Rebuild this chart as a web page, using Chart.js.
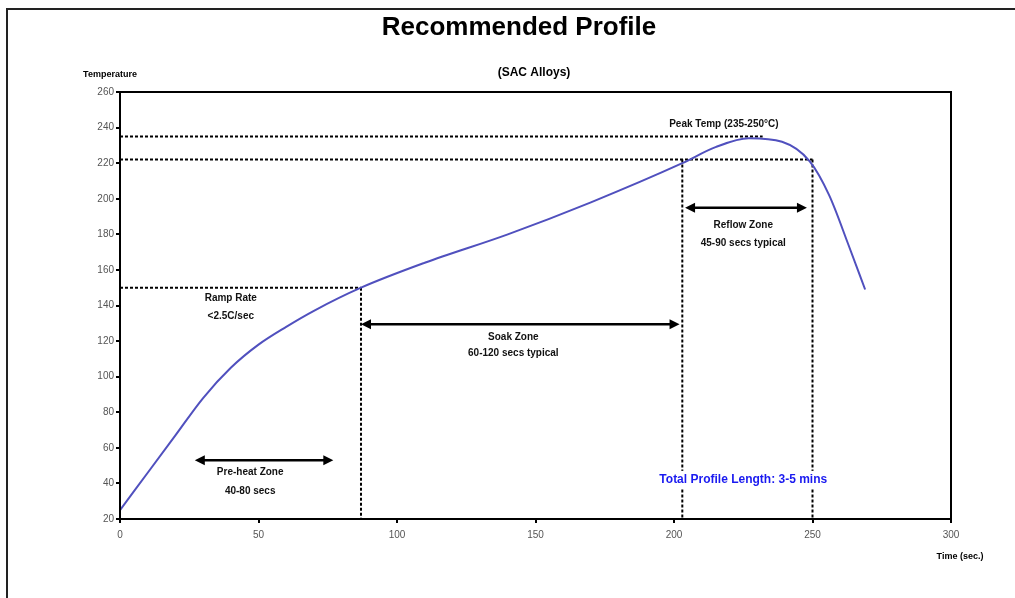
<!DOCTYPE html>
<html>
<head>
<meta charset="utf-8">
<script src="https://cdn.jsdelivr.net/npm/chart.js@4.4.0/dist/chart.umd.min.js"></script>
<style>
  html, body { margin: 0; padding: 0; background: #fff; }
  #wrap { width: 1015px; height: 598px; position: relative; }
</style>
</head>
<body>
<div id="wrap"><canvas id="perfil"></canvas></div>
<script>
/* curva de temperatura do perfil (tempo em seg, temperatura em C) */
const tempo_seg = [0, 10, 20, 30, 40, 50, 60, 70, 87, 110, 140, 170, 203, 215, 227, 239, 249, 256, 263, 269];
const temperatura = [25, 46, 67, 88, 105, 118, 128, 137, 150, 164, 180, 198, 220, 229, 234, 232, 221, 202, 174, 149];

/* linhas tracejadas de referencia: [x1, y1, x2, y2] */
const linhas_ref = [
    [0, 235, 232, 235],
    [0, 222, 250, 222],
    [0, 150, 87, 150],
    [87, 150, 87, 20],
    [203, 222, 203, 20],
    [250, 222, 250, 20]
];

/* setas das zonas: [x inicio, x fim, y] */
const setas_zonas = [
    [27, 77, 53],
    [87, 202, 129.5],
    [204, 248, 195]
];

/* textos: [texto, x, y] em valores do grafico */
const textos_zonas = [
    ['Peak Temp (235-250\u00b0C)', 218, 242],
    ['Reflow Zone', 225, 185],
    ['45-90 secs typical', 225, 175],
    ['Ramp Rate', 40, 144],
    ['<2.5C/sec', 40, 134],
    ['Soak Zone', 142, 122],
    ['60-120 secs typical', 142, 113],
    ['Pre-heat Zone', 47, 46],
    ['40-80 secs', 47, 35.5]
];

const ticks_x = [0, 50, 100, 150, 200, 250, 300];
const ticks_y = [20, 40, 60, 80, 100, 120, 140, 160, 180, 200, 220, 240, 260];

const conjuntos = [{
    label: 'Perfil',
    data: tempo_seg.map((t, i) => ({ x: t, y: temperatura[i] })),
    borderColor: 'rgb(80, 80, 190)',
    borderWidth: 2,
    pointRadius: 0,
    cubicInterpolationMode: 'monotone',
    fill: false
}];

for (let i = 0; i < linhas_ref.length; i++) {
    conjuntos.push({
        label: 'ref' + i,
        data: [{ x: linhas_ref[i][0], y: linhas_ref[i][1] }, { x: linhas_ref[i][2], y: linhas_ref[i][3] }],
        borderColor: '#000',
        borderWidth: 2,
        borderDash: [3, 2],
        pointRadius: 0,
        fill: false
    });
}

const plugin_desenho = {
    id: 'desenho',
    beforeDraw(chart) {
        const ctx = chart.ctx;
        ctx.save();
        ctx.fillStyle = '#fff';
        ctx.fillRect(0, 0, chart.width, chart.height);
        ctx.strokeStyle = '#222';
        ctx.lineWidth = 2;
        ctx.strokeRect(7, 9, 1020, 620);
        ctx.restore();
    },
    afterDraw(chart) {
        const ctx = chart.ctx;
        const sx = chart.scales.x, sy = chart.scales.y;
        const a = chart.chartArea;
        ctx.save();
        ctx.strokeStyle = '#000';
        ctx.lineWidth = 2;
        ctx.strokeRect(a.left, a.top, a.right - a.left, a.bottom - a.top);

        // setas
        setas_zonas.forEach(s => {
            const x1 = sx.getPixelForValue(s[0]), x2 = sx.getPixelForValue(s[1]);
            const y = sy.getPixelForValue(s[2]);
            ctx.beginPath();
            ctx.lineWidth = 2.5;
            ctx.moveTo(x1 + 4, y);
            ctx.lineTo(x2 - 4, y);
            ctx.stroke();
            ctx.fillStyle = '#000';
            ctx.beginPath();
            ctx.moveTo(x1, y); ctx.lineTo(x1 + 10, y - 5); ctx.lineTo(x1 + 10, y + 5); ctx.closePath(); ctx.fill();
            ctx.beginPath();
            ctx.moveTo(x2, y); ctx.lineTo(x2 - 10, y - 5); ctx.lineTo(x2 - 10, y + 5); ctx.closePath(); ctx.fill();
        });

        // textos das zonas
        ctx.font = 'bold 10px "Liberation Sans", Arial, sans-serif';
        ctx.textAlign = 'center';
        ctx.textBaseline = 'middle';
        ctx.fillStyle = '#111';
        textos_zonas.forEach(t => {
            ctx.fillText(t[0], sx.getPixelForValue(t[1]), sy.getPixelForValue(t[2]));
        });

        // caixa do comprimento total
        const tx = sx.getPixelForValue(225), ty = sy.getPixelForValue(42);
        ctx.font = 'bold 12px "Liberation Sans", Arial, sans-serif';
        const w = ctx.measureText('Total Profile Length: 3-5 mins').width;
        ctx.fillStyle = '#fff';
        ctx.fillRect(tx - w / 2 - 4, ty - 9, w + 8, 18);
        ctx.fillStyle = '#1a1af0';
        ctx.fillText('Total Profile Length: 3-5 mins', tx, ty);

        // titulos
        ctx.fillStyle = '#000';
        ctx.font = 'bold 26px "Liberation Sans", Arial, sans-serif';
        ctx.fillText('Recommended Profile', 519, 28);
        ctx.font = 'bold 12px "Liberation Sans", Arial, sans-serif';
        ctx.fillText('(SAC Alloys)', 534, 73);
        ctx.font = 'bold 9px "Liberation Sans", Arial, sans-serif';
        ctx.fillText('Temperature', 110, 75);
        ctx.fillText('Time (sec.)', 960, 557);
        ctx.restore();
    }
};

const config_perfil = {
    type: 'line',
    data: { datasets: conjuntos },
    options: {
        responsive: true,
        maintainAspectRatio: false,
        animation: false,
        layout: { padding: { left: 0, top: 92, right: 64, bottom: 0 } },
        plugins: {
            legend: { display: false },
            tooltip: { enabled: false }
        },
        scales: {
            x: {
                type: 'linear',
                min: 0,
                max: 300,
                afterFit: s => { s.height = 79; },
                afterBuildTicks: s => { s.ticks = ticks_x.map(v => ({ value: v })); },
                grid: { display: true, drawOnChartArea: false, drawTicks: true, tickLength: 4, color: '#000', lineWidth: 2 },
                border: { display: true, color: '#000', width: 2 },
                ticks: { color: '#555', font: { size: 10, family: '"Liberation Sans", Arial' }, padding: 6, maxRotation: 0 }
            },
            y: {
                type: 'linear',
                min: 20,
                max: 260,
                afterFit: s => { s.width = 120; },
                afterBuildTicks: s => { s.ticks = ticks_y.map(v => ({ value: v })); },
                grid: { display: true, drawOnChartArea: false, drawTicks: true, tickLength: 4, color: '#000', lineWidth: 2 },
                border: { display: true, color: '#000', width: 2 },
                ticks: { color: '#555', font: { size: 10, family: '"Liberation Sans", Arial' }, padding: 2 }
            }
        }
    },
    plugins: [plugin_desenho]
};

const grafico_perfil = new Chart(document.getElementById('perfil'), config_perfil);
</script>
</body>
</html>
